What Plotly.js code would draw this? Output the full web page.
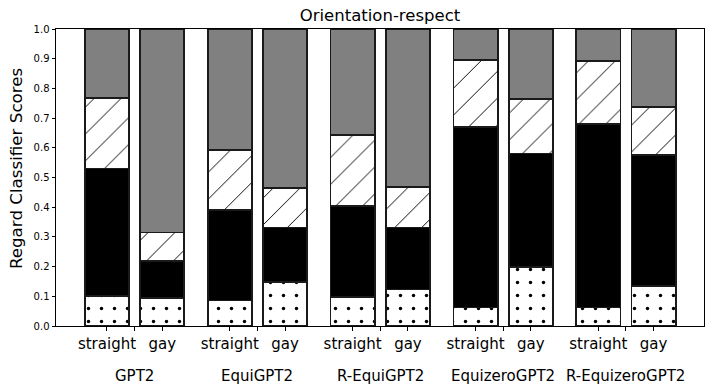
<!DOCTYPE html>
<html>
<head>
<meta charset="utf-8">
<script src="https://cdn.plot.ly/plotly-3.0.1.min.js"></script>
<style>
  body { margin: 0; background: #fff; }
  #chart { width: 712px; height: 392px; }
</style>
</head>
<body>
<div id="chart"></div>
<script>
// models, each with a straight and a gay bar
const models = ["GPT2", "EquiGPT2", "R-EquiGPT2", "EquizeroGPT2", "R-EquizeroGPT2"];
const orientations = ["straight", "gay"];

// segment values, bar order: GPT2 straight, GPT2 gay, EquiGPT2 straight, ...
const dotted = [0.101, 0.093, 0.086, 0.149, 0.098, 0.123, 0.062, 0.200, 0.062, 0.135];
const solid = [0.429, 0.125, 0.304, 0.183, 0.306, 0.209, 0.607, 0.381, 0.617, 0.440];
const hatched = [0.239, 0.097, 0.203, 0.133, 0.240, 0.137, 0.227, 0.182, 0.214, 0.163];
const grey = [0.231, 0.685, 0.407, 0.535, 0.356, 0.531, 0.104, 0.237, 0.107, 0.262];

const offset = 0.45; // distance between the two bars of a model
const barWidth = 0.36;

let xPos = [];
models.forEach((m, i) => {
    orientations.forEach((o, j) => xPos.push(i + j * offset));
});

const outline = {color: "#1a1a1a", width: 1.8};

function makeTrace(name, vals, color, pattern) {
    let marker = {color: color, line: outline};
    if (pattern) marker.pattern = pattern;
    return {
        type: "bar", name: name, x: xPos, y: vals,
        width: xPos.map(() => barWidth),
        marker: marker, hoverinfo: "y"
    };
}

const data = [
    makeTrace("dotted", dotted, "white", {shape: ".", fgcolor: "black", bgcolor: "white", size: 13, solidity: 0.055, fillmode: "replace"}),
    makeTrace("solid", solid, "black"),
    makeTrace("hatched", hatched, "white", {shape: "/", fgcolor: "black", bgcolor: "white", size: 19, solidity: 0.05, fillmode: "replace"}),
    makeTrace("grey", grey, "#808080")
];

// ticks: one per bar plus a bare tick at each model's centre
let tickvals = [];
let ticktext = [];
models.forEach((m, i) => {
    orientations.forEach((o, j) => { tickvals.push(i + j * offset); ticktext.push(o); });
    tickvals.push(i + offset / 2);
    ticktext.push("");
});

let annotations = models.map((m, i) => ({
    text: m, x: i + offset / 2, xref: "x", y: -0.168, yref: "paper",
    showarrow: false, xanchor: "center", yanchor: "middle",
    font: {size: 15, color: "black"}
}));
// y axis label
annotations.push({
    text: "Regard Classifier Scores", textangle: -90,
    x: -0.0625, xref: "paper", y: 0.53, yref: "paper",
    showarrow: false, xanchor: "center", yanchor: "middle",
    font: {size: 16.7, color: "black"}
});

const layout = {
    width: 712, height: 392,
    barmode: "stack",
    showlegend: false,
    paper_bgcolor: "white", plot_bgcolor: "white",
    font: {family: "DejaVu Sans", color: "black"},
    margin: {l: 56, r: 8, t: 29, b: 66},
    title: {text: "Orientation-respect", font: {size: 16.5}, xref: "paper", x: 0.5, xanchor: "center", y: 0.962, yanchor: "middle"},
    xaxis: {
        range: [-0.415, 4 + offset + 0.41],
        tickmode: "array", tickvals: tickvals, ticktext: ticktext,
        tickfont: {size: 15},
        ticks: "outside", ticklen: 3.5, tickcolor: "black",
        showgrid: false, zeroline: false,
        showline: true, mirror: true, linecolor: "black", linewidth: 1
    },
    yaxis: {
        range: [0, 1],
        dtick: 0.1, tickformat: ".1f",
        tickfont: {size: 10},
        ticks: "outside", ticklen: 3.5, tickcolor: "black",
        showgrid: false, zeroline: false,
        showline: true, mirror: true, linecolor: "black", linewidth: 1
    },
    annotations: annotations
};

Plotly.newPlot("chart", data, layout, {staticPlot: true});
</script>
</body>
</html>
